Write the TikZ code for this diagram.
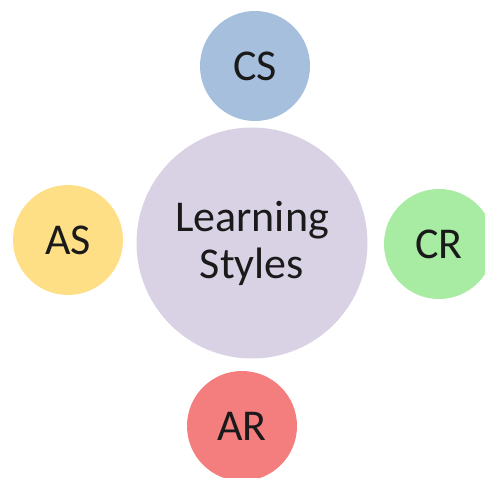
\documentclass[tikz,border=0pt]{standalone}
\usepackage{fontspec}
\setmainfont{Carlito}
\definecolor{csblue}{HTML}{A5BFDD}
\definecolor{lav}{HTML}{D9D1E4}
\definecolor{asyel}{HTML}{FEDF86}
\definecolor{crgreen}{HTML}{A8EBA2}
\definecolor{arred}{HTML}{F47E7D}
\definecolor{txt}{HTML}{1A1A1A}
\begin{document}
\begin{tikzpicture}[x=1pt,y=-1pt,
  bubble/.style={circle, inner sep=0pt, minimum size=110pt, text=txt, font=\fontsize{44}{48}\selectfont}]
\useasboundingbox (0,0) rectangle (485,478);
\clip (0,0) rectangle (485,478);
\node[circle, inner sep=0pt, minimum size=231pt, fill=lav, text=txt, align=center,
  font=\fontsize{44}{47}\selectfont] (ls) at (252,243) {Learning\\Styles};
\node[bubble, fill=csblue] (cs) at (255,66) {CS};
\node[bubble, fill=asyel] (as) at (68,240) {AS};
\node[bubble, fill=crgreen] (cr) at (439,244) {CR};
\node[bubble, fill=arred] (ar) at (242,426) {AR};
\end{tikzpicture}
\end{document}
